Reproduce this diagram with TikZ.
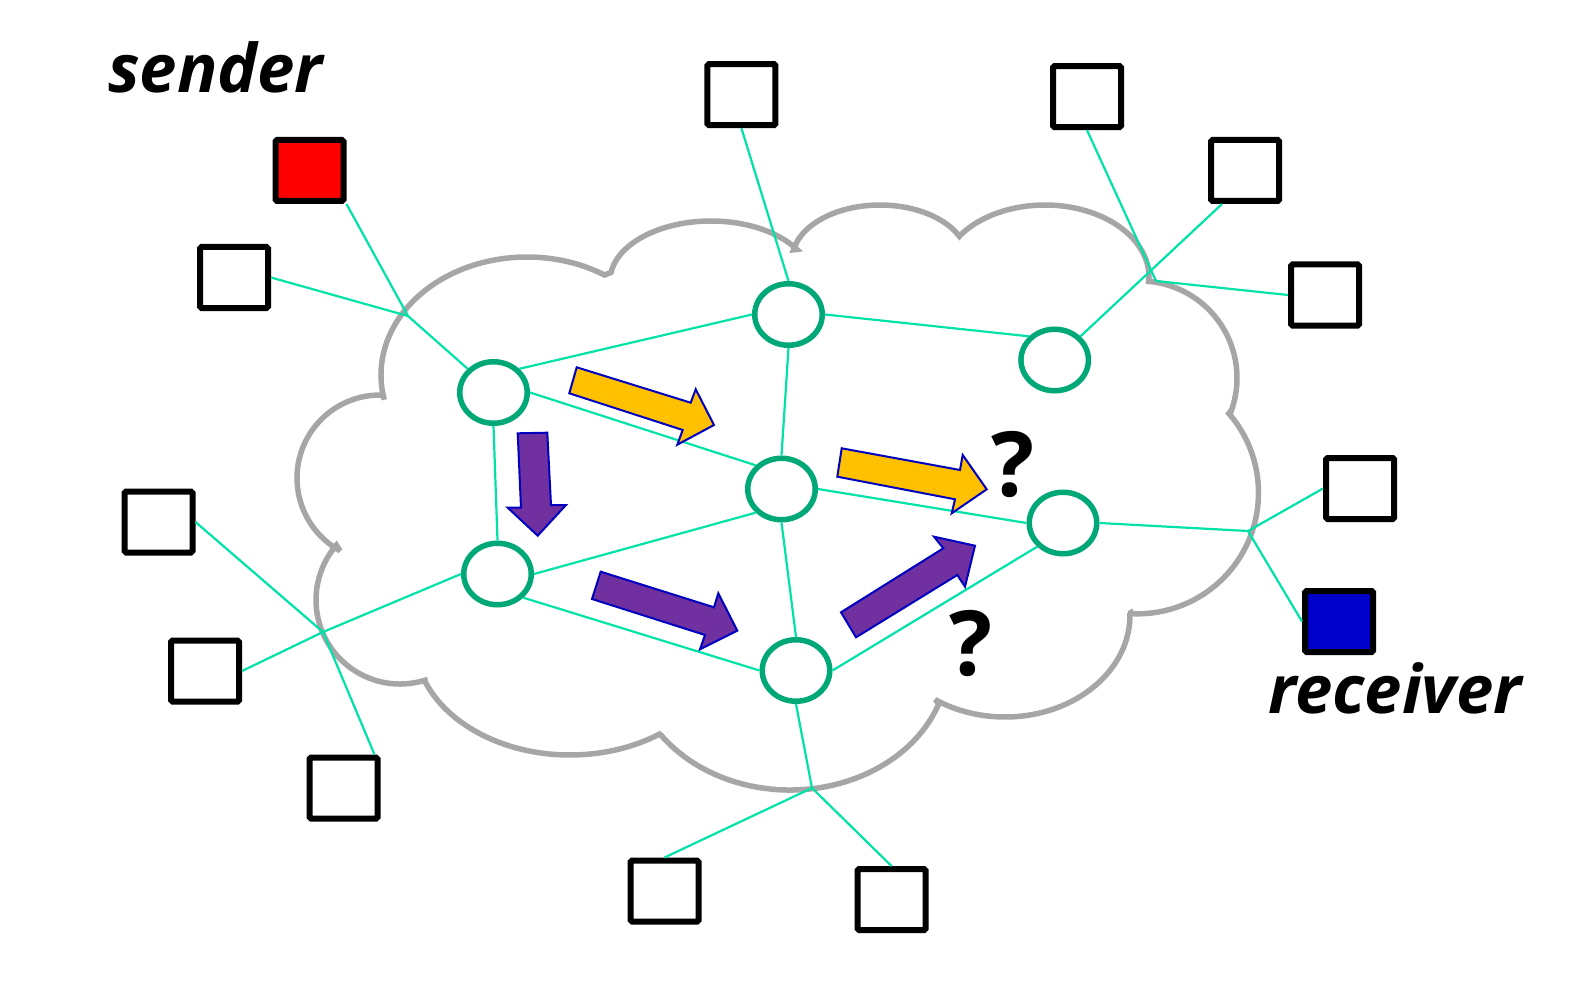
\documentclass[tikz,border=0pt]{standalone}
\usepackage{fontspec}
\setmainfont{Open Sans}
\usetikzlibrary{shapes.geometric}
\definecolor{cloudgray}{RGB}{166,166,166}
\definecolor{routerclr}{RGB}{0,168,120}
\definecolor{edgeclr}{RGB}{0,226,168}
\definecolor{arrowline}{RGB}{0,0,192}
\definecolor{arrowyellow}{RGB}{255,192,0}
\definecolor{arrowpurple}{RGB}{112,48,160}
\definecolor{sendred}{RGB}{255,0,0}
\definecolor{recvblue}{RGB}{0,0,204}
\newcommand\cloudlobe[6]{([shift={(#1,#2)}]#5:#3 and #4) arc[start angle=#5, end angle=#6, x radius=#3, y radius=#4]}
\begin{document}
\begin{tikzpicture}[x=1pt,y=-1pt,
 host/.style={draw=black, line width=6pt, minimum width=68pt, minimum height=61pt, inner sep=0pt, rounded corners=1.5pt, fill=white},
 router/.style={ellipse, draw=routerclr, line width=5.5pt, minimum width=67.5pt, minimum height=61.5pt, inner sep=0pt, fill=white},
 link/.style={draw=edgeclr, line width=2.2pt},
 cloudline/.style={draw=cloudgray, line width=5.5pt, line join=miter, miter limit=3},
 blockarrow/.style={draw=arrowline, line width=2pt, line join=miter},
 tag/.style={inner sep=0pt, font=\fontsize{67}{80}\selectfont\bfseries\itshape},
 qmark/.style={inner sep=0pt, font=\fontsize{90}{100}\selectfont\bfseries}]
\useasboundingbox (0,0) rectangle (1595,1000);

% cloud made of elliptic lobes
\draw[cloudline]
 \cloudlobe{527}{375}{146}{118}{167.9}{302.1}
 -- \cloudlobe{711}{281}{101}{60}{188.3}{328.2}
 -- \cloudlobe{880}{260}{88}{55}{190.7}{334.4}
 -- \cloudlobe{1045}{277}{104}{72}{214.9}{360}
 -- \cloudlobe{1140}{378}{97}{97}{275.1}{381.3}
 -- \cloudlobe{1137.5}{492.8}{121}{121}{-42.1}{94}
 -- \cloudlobe{1005}{615}{125}{102}{-1.1}{124}
 -- \cloudlobe{790}{660}{158}{130}{19.6}{145.3}
 -- \cloudlobe{570}{640}{155.5}{115}{54}{158}
 -- \cloudlobe{400}{600}{84}{84}{72.6}{220.8}
 -- \cloudlobe{380}{478}{83}{83}{118.8}{272.2}
 -- cycle;

% hosts
\node[host, fill=sendred] (snd) at (309.5,170.5) {};
\node[host] (w1) at (234,277.5) {};
\node[host] (t1) at (741.4,94.6) {};
\node[host] (t2) at (1087,96.6) {};
\node[host] (r1) at (1245,170.5) {};
\node[host] (r2) at (1325,295) {};
\node[host] (r3) at (1360,488.5) {};
\node[host, fill=recvblue] (rcv) at (1339,621.5) {};
\node[host] (l1) at (158.5,522) {};
\node[host] (l2) at (205,671) {};
\node[host] (l3) at (343.5,788) {};
\node[host] (b1) at (664.5,891) {};
\node[host] (b2) at (891.5,899.5) {};

% routers
\node[router] (A) at (493.5,392.5) {};
\node[router] (B) at (788.5,314.5) {};
\node[router] (C) at (1054.7,360) {};
\node[router] (D) at (781.5,489) {};
\node[router] (E) at (1063,523) {};
\node[router] (F) at (497.5,574) {};
\node[router] (G) at (796,670.5) {};

% junctions on the cloud
\coordinate (J1) at (408,316);
\coordinate (J2) at (1156,281);
\coordinate (J3) at (1248,531);
\coordinate (J4) at (812,788);
\coordinate (J5) at (323,632);

% access links
\draw[link] (snd.south east) -- (J1) -- (A.north west);
\draw[link] (w1.east) -- (J1);
\draw[link] (t1.south) -- (B.north);
\draw[link] (t2.south) -- (J2);
\draw[link] (r2.west) -- (J2);
\draw[link] ([xshift=-23pt]r1.south) -- (C.north east);
\draw[link] (E.east) -- (J3) -- (r3.west);
\draw[link] (J3) -- (rcv.west);
\draw[link] (G.south) -- (J4) -- (b1.north);
\draw[link] (J4) -- (b2.north);
\draw[link] (l1.east) -- (J5) -- ([xshift=-6pt]l3.north east);
\draw[link] (l2.east) -- (J5) -- (F.west);

% core links
\draw[link] (A.north east) -- (B.west);
\draw[link] (A.east) -- (D.north west);
\draw[link] (A.south) -- (F.north);
\draw[link] (B.east) -- (C.north west);
\draw[link] (B.south) -- (D.north);
\draw[link] (D.east) -- (E.west);
\draw[link] (F.east) -- (D.south west);
\draw[link] (D.south) -- (G.north);
\draw[link] (F.south east) -- (G.west);
\draw[link] (G.east) -- (E.south west);

% block arrows
\draw[blockarrow, fill=arrowyellow] (576.7,367.3) -- (569.3,393.3) -- (682.7,430) -- (677.3,444.7) -- (714,425) -- (695.7,389.3) -- (690.7,402.7) -- cycle;
\draw[blockarrow, fill=arrowyellow] (841.7,448.3) -- (837.3,476.7) -- (955,499.3) -- (951.7,513.3) -- (986.7,489.3) -- (962.7,455) -- (960,470) -- cycle;
\draw[blockarrow, fill=arrowpurple] (517.7,433.3) -- (547.3,432.7) -- (551,505) -- (566,505) -- (537.7,535.7) -- (507.7,507.7) -- (521,507.7) -- cycle;
\draw[blockarrow, fill=arrowpurple] (600.7,571.7) -- (592,599) -- (705,635) -- (700,649.3) -- (737.3,630.7) -- (718.3,593.3) -- (714,607.3) -- cycle;
\draw[blockarrow, fill=arrowpurple] (856,637.3) -- (841,612.3) -- (943.3,548.3) -- (934,536.7) -- (975,545.7) -- (965,586.7) -- (957.3,575) -- cycle;

% texts
\node[tag, anchor=base west] (sndlbl) at (108,93) {sender};
\node[tag, anchor=base west] (rcvlbl) at (1268,713) {receiver};
\node[qmark] (q1) at (1013,465) {?};
\node[qmark] (q2) at (971,644) {?};
\end{tikzpicture}
\end{document}
